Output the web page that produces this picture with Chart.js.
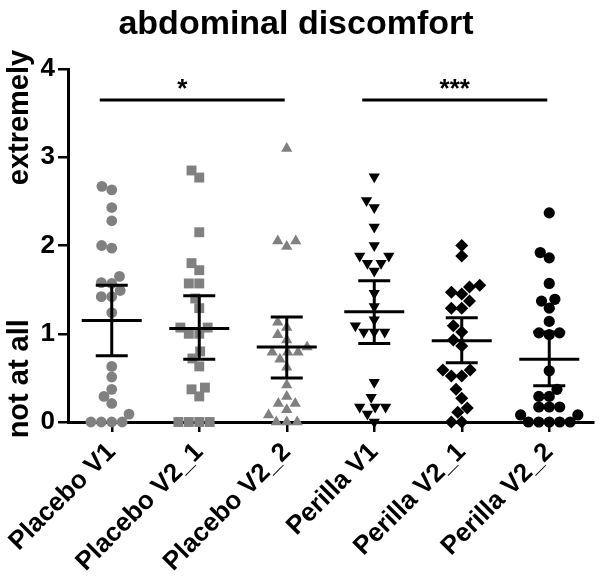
<!DOCTYPE html>
<html lang="en">
<head>
    <meta charset="UTF-8">
    <title>abdominal discomfort</title>
    <script src="https://cdn.jsdelivr.net/npm/chart.js"></script>
    <style>
        html, body { margin: 0; padding: 0; background: #fff; }
        .chart-container { width: 600px; height: 578px; }
    </style>
</head>
<body>

<div class="chart-container">
    <canvas id="discomfortChart"></canvas>
</div>

<script>
    // Groups on the x axis
    const groups = ['Placebo V1', 'Placebo V2_1', 'Placebo V2_2', 'Perilla V1', 'Perilla V2_1', 'Perilla V2_2'];

    // Individual scores per group
    const placeboV1  = [2.63, 2.67, 2.43, 2.28, 1.97, 2.0, 1.58, 1.65, 1.57, 1.49, 1.42, 1.42, 1.24, 0.63, 0.51, 0.37, 0.29, 0.21, 0.09, 0, 0, 0, 0];
    const placeboV21 = [2.77, 2.85, 2.15, 1.80, 1.72, 1.57, 1.57, 1.40, 1.29, 1.07, 1.07, 1.0, 1.0, 0.80, 0.72, 0.63, 0.37, 0.39, 0.29, 0, 0, 0, 0];
    const placeboV22 = [3.10, 2.05, 1.99, 2.05, 1.13, 1.07, 0.99, 0.93, 0.79, 0.85, 0.79, 0.79, 0.71, 0.62, 0.42, 0.21, 0.21, 0.29, 0.14, 0.08, 0, 0, 0];
    const perillaV1  = [2.78, 2.51, 2.43, 2.21, 2.0, 1.88, 1.80, 1.80, 1.88, 1.71, 1.46, 1.31, 1.16, 1.02, 1.02, 1.02, 1.09, 0.45, 0.28, 0.17, 0.17, 0.09, 0.17, 0];
    const perillaV21 = [2.0, 1.88, 1.47, 1.53, 1.55, 1.45, 1.37, 1.29, 1.29, 1.09, 1.02, 0.93, 0.86, 0.59, 0.52, 0.52, 0.59, 0.37, 0.27, 0.11, 0.16, 0, 0];
    const perillaV22 = [2.37, 1.86, 1.92, 1.57, 1.39, 1.37, 1.29, 1.14, 1.01, 0.99, 1.01, 0.58, 0.37, 0.29, 0.29, 0.17, 0.17, 0.17, 0.08, 0.08, 0, 0, 0, 0, 0];

    // Mean and 95% CI per group
    const means  = [1.15, 1.06, 0.85, 1.25, 0.92, 0.71];
    const ciLow  = [0.75, 0.71, 0.50, 0.89, 0.67, 0.41];
    const ciHigh = [1.55, 1.43, 1.19, 1.60, 1.18, 1.02];

    // Significance brackets: [from group, to group, label]
    const sigBars = [[1, 3, '*'], [4, 6, '***']];
    const sigLevel = 3.65;

    const yTicks = [0, 1, 2, 3, 4];

    const allValues = [placeboV1, placeboV21, placeboV22, perillaV1, perillaV21, perillaV22];

    const FONT = '"Liberation Sans", Arial, sans-serif';
    const GREY = '#808080';
    const styles = [
        { pointStyle: 'circle',   rotation: 0,   radius: 5.4, color: GREY },
        { pointStyle: 'rect',     rotation: 0,   radius: 7,   color: GREY },
        { pointStyle: 'triangle', rotation: 0,   radius: 6.5, color: GREY },
        { pointStyle: 'triangle', rotation: 180, radius: 6.5, color: '#000' },
        { pointStyle: 'rectRot',  rotation: 0,   radius: 6.5, color: '#000' },
        { pointStyle: 'circle',   rotation: 0,   radius: 5.6, color: '#000' }
    ];

    // simple beeswarm so points of equal value sit side by side
    const PX_X = 88, PX_Y = 88.25, DIAM = 10.5;
    function swarm(values) {
        const placed = [];
        const offs = new Array(values.length);
        const order = values.map((v, i) => i).sort((a, b) => values[a] - values[b]);
        order.forEach(i => {
            const y = values[i] * PX_Y;
            const near = placed.filter(p => Math.abs(p.y - y) < DIAM);
            let cands = [0];
            near.forEach(p => {
                const dx = Math.sqrt(DIAM * DIAM - (p.y - y) * (p.y - y));
                cands.push(p.x - dx, p.x + dx);
            });
            cands = cands.filter(c => near.every(p => (p.x - c) ** 2 + (p.y - y) ** 2 >= DIAM * DIAM - 0.01));
            cands.sort((a, b) => Math.abs(a) - Math.abs(b) || a - b);
            placed.push({ x: cands[0], y: y });
            offs[i] = cands[0] / PX_X;
        });
        return offs;
    }

    const datasets = allValues.map((vals, g) => {
        const offs = swarm(vals);
        const s = styles[g];
        return {
            label: groups[g],
            data: vals.map((v, i) => ({ x: g + 1 + offs[i], y: v })),
            pointStyle: s.pointStyle,
            rotation: s.rotation,
            radius: s.radius,
            backgroundColor: s.color,
            borderColor: s.color,
            borderWidth: 0,
            clip: false
        };
    });

    // mean / CI bars, significance lines, title and side labels
    const overlay = {
        id: 'overlay',
        afterDatasetsDraw(chart) {
            const { ctx, scales: { x, y } } = chart;
            ctx.save();
            ctx.strokeStyle = '#000';
            ctx.lineWidth = 3;
            const seg = (x1, y1, x2, y2) => {
                ctx.beginPath(); ctx.moveTo(x1, y1); ctx.lineTo(x2, y2); ctx.stroke();
            };
            means.forEach((m, i) => {
                const cx = x.getPixelForValue(i + 1);
                const ym = y.getPixelForValue(m);
                const yl = y.getPixelForValue(ciLow[i]);
                const yh = y.getPixelForValue(ciHigh[i]);
                seg(cx - 30, ym, cx + 30, ym);
                seg(cx, yl, cx, yh);
                seg(cx - 16, yl, cx + 16, yl);
                seg(cx - 16, yh, cx + 16, yh);
            });
            const ly = y.getPixelForValue(sigLevel);
            ctx.fillStyle = '#000';
            ctx.font = 'bold 26px ' + FONT;
            ctx.textAlign = 'center';
            ctx.textBaseline = 'alphabetic';
            sigBars.forEach(([a, b, txt]) => {
                const x1 = x.getPixelForValue(a) - 12;
                const x2 = x.getPixelForValue(b) - 2;
                seg(x1, ly, x2, ly);
                ctx.fillText(txt, (x1 + x2) / 2 - (txt.length === 1 ? 10 : 0), ly - 3);
            });
            ctx.restore();
        },
        afterDraw(chart) {
            const { ctx, scales: { y } } = chart;
            ctx.save();
            ctx.fillStyle = '#000';
            ctx.textAlign = 'center';
            ctx.textBaseline = 'alphabetic';
            ctx.font = 'bold 34px ' + FONT;
            ctx.fillText('abdominal discomfort', 296, 34);
            ctx.font = 'bold 29px ' + FONT;
            [['not at all', 0.49], ['extremely', 3.45]].forEach(([txt, v]) => {
                ctx.save();
                ctx.translate(28, y.getPixelForValue(v));
                ctx.rotate(-Math.PI / 2);
                ctx.fillText(txt, 0, 0);
                ctx.restore();
            });
            ctx.restore();
        }
    };

    new Chart(document.getElementById('discomfortChart').getContext('2d'), {
        type: 'scatter',
        data: { datasets: datasets },
        options: {
            responsive: true,
            maintainAspectRatio: false,
            animation: false,
            layout: { padding: { top: 69, right: 4, left: 0, bottom: 0 } },
            plugins: {
                legend: { display: false },
                tooltip: { enabled: false }
            },
            scales: {
                x: {
                    type: 'linear',
                    min: 0.5,
                    max: 6.5,
                    afterBuildTicks: scale => {
                        scale.ticks = groups.map((g, i) => ({ value: i + 1 }));
                    },
                    afterFit: scale => {
                        scale.height = 156;
                        scale.paddingLeft = 0;
                        scale.paddingRight = 0;
                    },
                    ticks: {
                        autoSkip: false,
                        minRotation: 45,
                        maxRotation: 45,
                        padding: 5,
                        color: '#000',
                        font: { family: FONT, size: 26, weight: 'bold' },
                        callback: value => groups[Math.round(value) - 1]
                    },
                    grid: { drawOnChartArea: false, color: '#000', lineWidth: 2.5, tickLength: 10 },
                    border: { color: '#000', width: 3 }
                },
                y: {
                    min: 0,
                    max: 4,
                    afterBuildTicks: scale => {
                        scale.ticks = yTicks.map(v => ({ value: v }));
                    },
                    afterFit: scale => { scale.width = 68; },
                    ticks: {
                        padding: 3,
                        color: '#000',
                        font: { family: FONT, size: 26, weight: 'bold' }
                    },
                    grid: { drawOnChartArea: false, color: '#000', lineWidth: 2.5, tickLength: 10 },
                    border: { color: '#000', width: 3 }
                }
            }
        },
        plugins: [overlay]
    });
</script>
</body>
</html>
